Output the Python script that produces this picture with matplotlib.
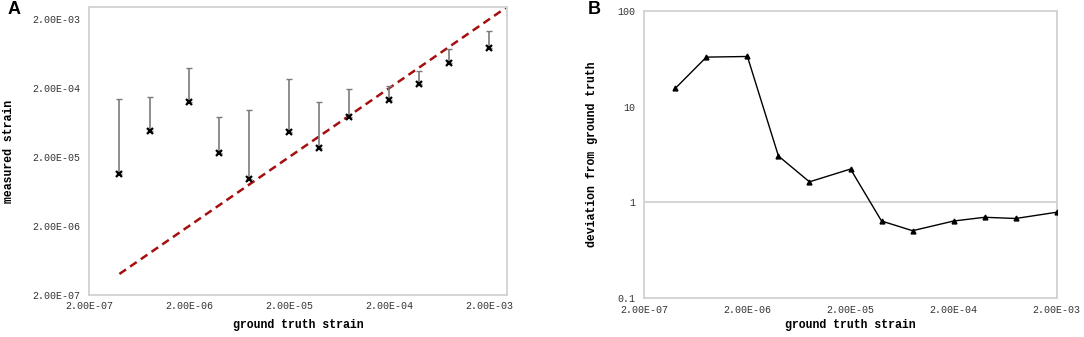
#!/usr/bin/env python3
"""Two-panel strain figure: measured vs ground truth (A) and deviation (B)."""
import matplotlib

matplotlib.use("Agg")
import matplotlib.pyplot as plt
from matplotlib.ticker import FixedLocator, NullLocator

# ground-truth strain levels (shared x for both panels)
gt = [4e-7, 8e-7, 2e-6, 4e-6, 8e-6, 2e-5, 4e-5, 8e-5, 2e-4, 4e-4, 8e-4, 2e-3]
# panel A: measured strain and the top of its error bar
measured = [1.13e-5, 4.8e-5, 1.27e-4, 2.3e-5, 9.7e-6, 4.6e-5,
            2.74e-5, 7.6e-5, 1.36e-4, 2.3e-4, 4.66e-4, 7.6e-4]
measured_top = [1.4e-4, 1.5e-4, 3.9e-4, 7.5e-5, 9.6e-5, 2.69e-4,
                1.24e-4, 1.95e-4, 2.12e-4, 3.6e-4, 7.4e-4, 1.35e-3]
# panel B: deviation from ground truth
deviation = [15.5, 32.8, 33.3, 3.05, 1.64, 2.23, 0.64, 0.507, 0.64, 0.70, 0.68, 0.79]

strain_ticks = [2e-7, 2e-6, 2e-5, 2e-4, 2e-3]
dev_ticks = [0.1, 1, 10, 100]
dev_labels = ["0.1", "1", "10", "100"]

W, H, DPI = 1084, 337, 100
MONO = "Liberation Mono"
FRAME = "#d4d4d4"
TICK_FS = 7.2
LABEL_FS = 8.3

plt.rcParams["font.family"] = [MONO, "DejaVu Sans Mono"]


def px_axes(fig, x0, y0, x1, y1):
    """Add axes from pixel box (top-left origin)."""
    return fig.add_axes([x0 / W, 1 - y1 / H, (x1 - x0) / W, (y1 - y0) / H])


def style(ax, box, xlab_y, ylab_x):
    x0, y0, x1, y1 = box
    for s in ax.spines.values():
        s.set_color(FRAME)
        s.set_linewidth(1.4)
    ax.tick_params(length=0, labelsize=TICK_FS, labelcolor="#333333")
    ax.tick_params(axis="x", pad=4.5)
    ax.tick_params(axis="y", pad=6.5)
    ax.xaxis.set_minor_locator(NullLocator())
    ax.yaxis.set_minor_locator(NullLocator())
    # label centres given in figure pixels, converted to axes fractions
    ax.xaxis.set_label_coords(0.5, (y1 - xlab_y) / (y1 - y0))
    ax.xaxis.label.set_va("center")
    ax.yaxis.set_label_coords((ylab_x - x0) / (x1 - x0), 0.5)
    ax.yaxis.label.set_va("center")


def strain_labels(vals):
    return [f"{v:.2E}" for v in vals]


fig = plt.figure(figsize=(W / DPI, H / DPI), dpi=DPI)

# ---- panel A
box_a = (89.3, 7.3, 507.3, 294.7)
ax = px_axes(fig, *box_a)
ax.set_xscale("log")
ax.set_yscale("log")
ax.set_xlim(2e-7, 3.03e-3)
ax.set_ylim(2e-7, 2.98e-3)

lim = ax.get_xlim()[1]
ax.plot([gt[0], lim], [gt[0], lim], color="#a50f0f", lw=1.8, ls=(0, (3.2, 2)), zorder=2)

upper = [t - m for t, m in zip(measured_top, measured)]
ax.errorbar(gt, measured, yerr=[[0] * len(gt), upper], fmt="none",
            ecolor="#7a7a7a", elinewidth=1.2, capsize=2, capthick=1, zorder=3)
ax.plot(gt, measured, ls="none", marker="x", ms=4.5, mew=1.6, color="black", zorder=4)

ax.xaxis.set_major_locator(FixedLocator(strain_ticks))
ax.set_xticklabels(strain_labels(strain_ticks))
ax.yaxis.set_major_locator(FixedLocator(strain_ticks))
ax.set_yticklabels(strain_labels(strain_ticks))
ax.set_xlabel("ground truth strain", fontweight="bold", fontsize=LABEL_FS)
ax.set_ylabel("measured strain", fontweight="bold", fontsize=LABEL_FS)
style(ax, box_a, 325, 9)
fig.text(8 / W, 1 - 10 / H, "A", fontsize=13, fontweight="bold",
         fontfamily="Liberation Sans", ha="left", va="center")

# ---- panel B
box_b = (644.3, 10.7, 1056.7, 298.3)
bx = px_axes(fig, *box_b)
bx.set_xscale("log")
bx.set_yscale("log")
bx.set_xlim(strain_ticks[0], strain_ticks[-1])
bx.set_ylim(dev_ticks[0], dev_ticks[-1])
bx.axhline(1, color=FRAME, lw=1.4, zorder=1)
bx.plot(gt, deviation, color="black", lw=1, marker="^", ms=3.5, zorder=3)

bx.xaxis.set_major_locator(FixedLocator(strain_ticks))
bx.set_xticklabels(strain_labels(strain_ticks))
bx.yaxis.set_major_locator(FixedLocator(dev_ticks))
bx.set_yticklabels(dev_labels)
bx.set_xlabel("ground truth strain", fontweight="bold", fontsize=LABEL_FS)
bx.set_ylabel("deviation from ground truth", fontweight="bold", fontsize=LABEL_FS)
style(bx, box_b, 325, 592)
fig.text(588 / W, 1 - 9 / H, "B", fontsize=13, fontweight="bold",
         fontfamily="Liberation Sans", ha="left", va="center")

fig.savefig("out.png", dpi=DPI)
